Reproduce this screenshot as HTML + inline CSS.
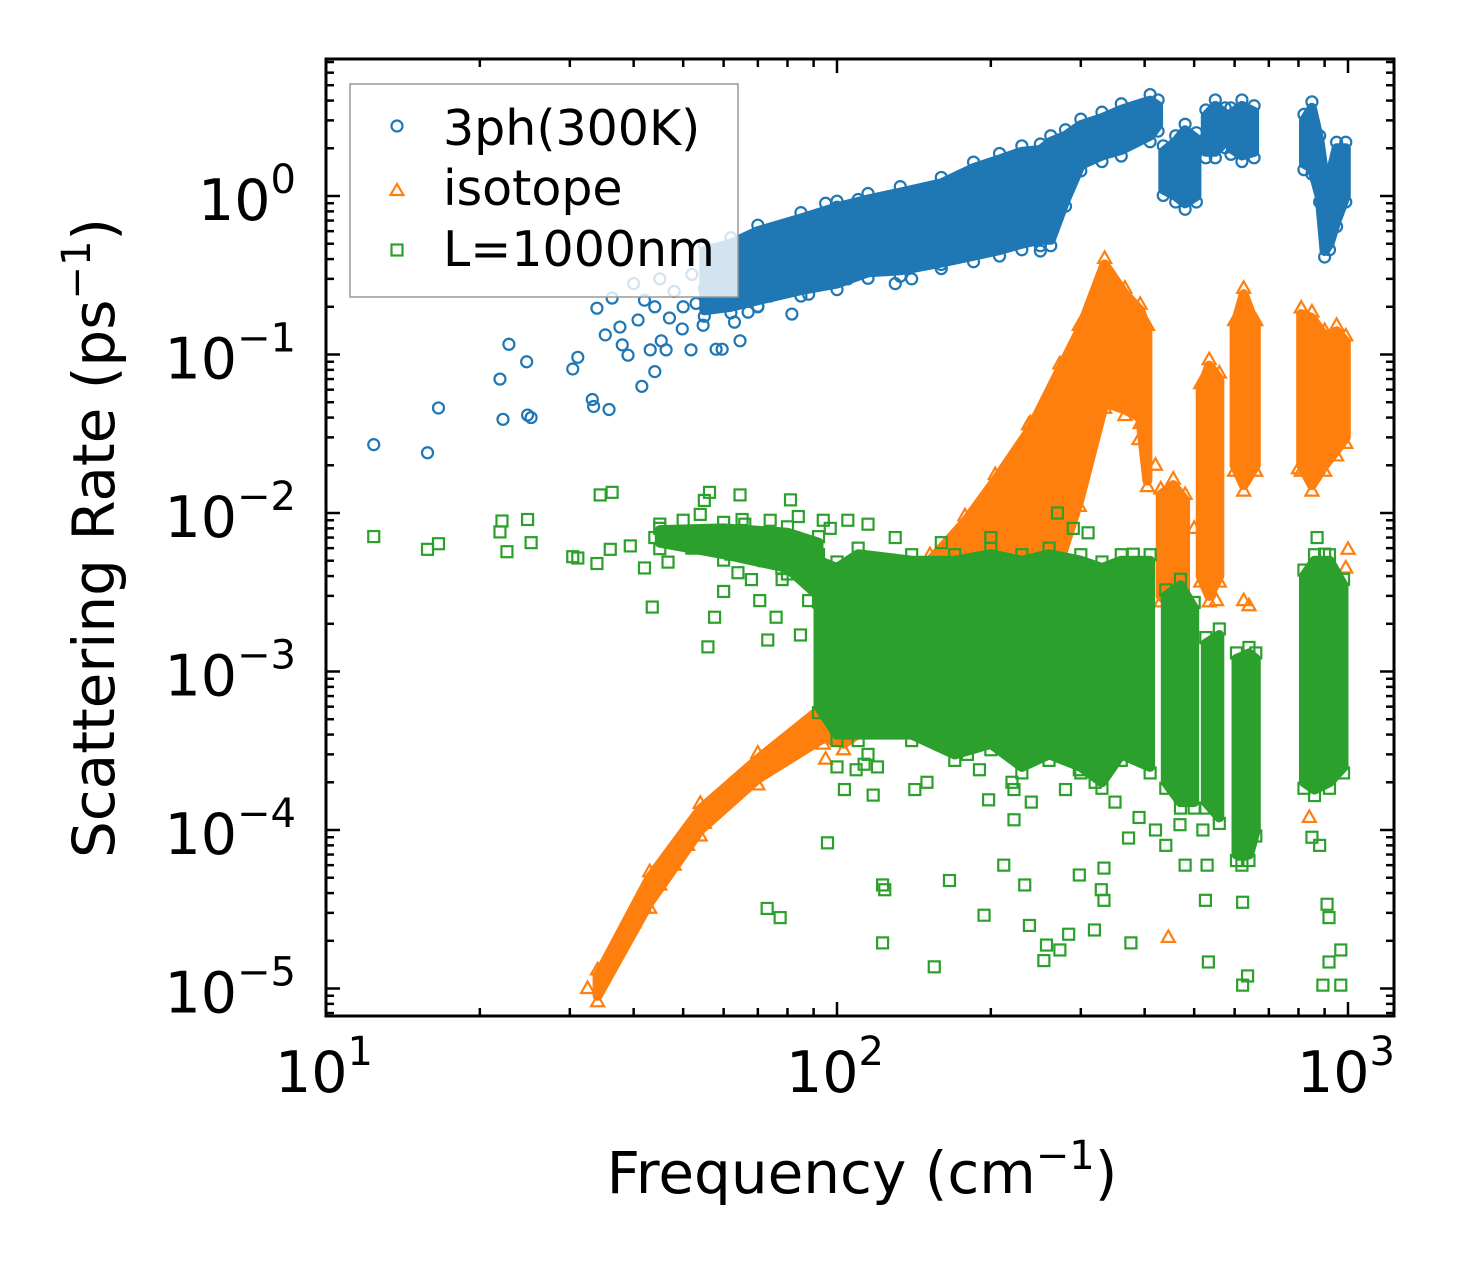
<!DOCTYPE html>
<html><head><meta charset="utf-8"><style>
html,body{margin:0;padding:0;background:#fff;}
svg text{font-family:"DejaVu Sans","Liberation Sans",sans-serif;fill:#000;}
</style></head><body>
<svg id="chart" width="1457" height="1265" viewBox="0 0 1457 1265" xmlns="http://www.w3.org/2000/svg">
<defs><clipPath id="clip"><rect x="326" y="59" width="1068" height="957"/></clipPath></defs>
<rect x="0" y="0" width="1457" height="1265" fill="#fff"/>
<g id="plot" clip-path="url(#clip)"></g>
<g id="axes"></g>
<g id="legend">
<rect x="350" y="84" width="388" height="213" fill="#fff" fill-opacity="0.8" stroke="#999" stroke-width="1.5"/>
<circle cx="397" cy="126" r="5.5" fill="none" stroke="#1f77b4" stroke-width="2.2"/>
<text x="443" y="145" font-size="49">3ph(300K)</text>
<polygon points="397,184 403.5,195 390.5,195" fill="none" stroke="#ff7f0e" stroke-width="2.2"/>
<text x="443" y="205" font-size="49">isotope</text>
<rect x="391.5" y="244.5" width="11" height="11" fill="none" stroke="#2ca02c" stroke-width="2.2"/>
<text x="443" y="266" font-size="49">L=1000nm</text>
</g>
<text x="862" y="1193" font-size="58" text-anchor="middle">Frequency (cm<tspan font-size="40" dy="-24">−1</tspan><tspan dy="24">)</tspan></text>
<text transform="translate(114,538) rotate(-90)" font-size="58" text-anchor="middle">Scattering Rate (ps<tspan font-size="40" dy="-24">−1</tspan><tspan dy="24">)</tspan></text>
</svg>
<script>
// ---- data (frequency cm^-1, rate ps^-1) ----
const xTickExps = [1, 2, 3];
const yTickExps = [0, -1, -2, -3, -4, -5];
// dense bands: [freq, low rate, high rate]
const blueBands = [
 [[55,0.19,0.45],[62,0.2,0.5],[70,0.22,0.6],[85,0.255,0.72],[100,0.28,0.85],[115,0.33,0.95],[133,0.34,1.05],[160,0.38,1.2],[185,0.42,1.5],[208,0.456,1.7],[230,0.5,1.9],[250,0.53,1.95],[262,0.53,2.2],[280,0.94,2.4],[300,1.57,2.8],[330,1.8,3.1],[360,1.95,3.5],[410,2.4,4.0],[425,2.8,3.7]],
 [[435,1.1,1.9],[460,1.0,2.2],[480,0.9,2.6],[505,1.0,2.3]],
 [[527,1.9,3.2],[550,1.9,3.7],[575,2.2,3.3]],
 [[590,2.0,3.3],[620,1.8,3.7],[655,1.9,3.4]],
 [[820,1.6,3.0],[850,1.5,3.6],[880,1.0,2.2],[900,0.45,1.3],[920,0.5,1.3],[950,0.7,2.0],[990,1.0,2.0]]
];
const orangeBands = [
 [[34,0.9e-5,1.2e-5],[43,3.5e-5,5e-5],[54,1.0e-4,1.35e-4],[70,2.1e-4,2.8e-4],[94,3.8e-4,6e-4],[103,3.5e-4,1.6e-3],[121,5e-4,2.5e-3],[152,6e-4,5e-3],[178,1.4e-3,8.8e-3],[204,2.8e-3,0.016],[239,5e-3,0.034],[273,5e-3,0.08],[298,0.012,0.14],[334,0.05,0.37],[366,0.045,0.24],[392,0.04,0.19],[405,0.016,0.14]],
 [[430,3e-3,0.013],[455,2.5e-3,0.015],[480,3e-3,0.012]],
 [[515,4e-3,0.06],[535,3e-3,0.085],[560,4e-3,0.07]],
 [[600,0.02,0.15],[625,0.015,0.24],[660,0.02,0.15]],
 [[810,0.02,0.18],[850,0.015,0.17],[900,0.02,0.13],[950,0.025,0.14],[990,0.03,0.12]]
];
const greenBands = [
 [[45,6.5e-3,7.8e-3],[60,5.5e-3,8e-3],[80,4.5e-3,7.5e-3],[92,3e-3,6.5e-3]],
 [[92,6e-4,5e-3],[100,4e-4,4.5e-3],[110,4e-4,5.5e-3],[140,4e-4,5e-3],[170,3e-4,5e-3],[200,3.5e-4,5.5e-3],[230,2.5e-4,5e-3],[260,3e-4,5.5e-3],[300,2.5e-4,5e-3],[330,2e-4,4.5e-3],[360,3e-4,5e-3],[410,2.5e-4,5e-3]],
 [[440,2e-4,3e-3],[470,1.5e-4,3.5e-3],[500,1.5e-4,2.5e-3]],
 [[527,1.5e-4,1.5e-3],[560,1.2e-4,1.7e-3]],
 [[605,7e-5,1.2e-3],[640,7e-5,1.3e-3],[660,1e-4,1.2e-3]],
 [[820,2e-4,4e-3],[860,1.8e-4,5e-3],[920,2e-4,5e-3],[980,2.5e-4,3.5e-3]]
];
// scattered points: [freq, rate]
const bluePoints = [[12.4,0.027],[15.8,0.024],[16.6,0.046],[21.9,0.070],[22.8,0.116],[22.2,0.039],[24.8,0.0415],[25.2,0.040],[24.7,0.090],[30.4,0.081],[31.1,0.096],[33.2,0.052],[33.4,0.047],[35.8,0.045],[33.9,0.196],[35.2,0.133],[36.3,0.227],[37.6,0.149],[38.0,0.115],[39.0,0.099],[40.8,0.165],[41.5,0.063],[43.1,0.107],[44.0,0.078],[45.3,0.122],[46.3,0.107],[49.8,0.145],[51.8,0.107],[54.7,0.153],[58.0,0.108],[59.6,0.108],[64.6,0.122],[67.0,0.185],[74.0,0.234],[81.6,0.18],
 [40,0.28],[42,0.22],[45,0.3],[48,0.25],[50,0.2],[52,0.32],[55,0.26],[57,0.38],[60,0.3],[62,0.22],[65,0.42],[68,0.35],[72,0.5],[76,0.45],[80,0.55],[85,0.65],[90,0.7],[95,0.9],[100,0.85],[110,0.95],[120,0.6],[140,0.3],[160,0.37],[105,0.3],[130,0.28],[250,0.45],[44,0.2],[47,0.17],[53,0.21],[63,0.16],[70,0.2],[78,0.27],[88,0.24]];
const orangePoints = [[32.5,1e-5],[35,1.3e-5],[36,1.5e-5],[38,2e-5],[40,2.6e-5],[42,3.2e-5],[45,4.5e-5],[48,6e-5],[51,8e-5],[55,1.1e-4],[58,1.35e-4],[62,1.7e-4],[66,2e-4],[72,2.5e-4],[78,3e-4],[85,3.6e-4],[90,4.2e-4],[96,5e-4],[100,7e-4],
 [445,2.1e-5],[95,2.8e-4],[840,1.2e-4],[553,2.8e-3],[625,2.8e-3],[640,2.6e-3],[460,0.014],[1000,5.9e-3],[800,0.019],[390,0.029],[237,0.036],[247,0.029],[420,0.02],[500,0.008],[990,4.5e-3]];
const greenPoints = [[12.4,7.1e-3],[15.8,5.9e-3],[16.6,6.4e-3],[21.9,7.6e-3],[22.1,8.9e-3],[22.6,5.7e-3],[24.8,9.1e-3],[25.2,6.5e-3],[30.4,5.3e-3],[31.1,5.2e-3],[33.9,4.8e-3],[36.0,5.9e-3],[39.4,6.2e-3],[34.4,0.013],[36.3,0.0135],[43.5,2.55e-3],[46.7,4.9e-3],[54.0,9.8e-3],[55.9,1.43e-3],[56.3,0.0135],[57.6,2.2e-3],[64.6,0.013],[65.2,9.1e-3],[70.6,2.8e-3],[73.2,1.58e-3],[78.1,3.8e-3],[81.1,0.0121],[84.8,1.7e-3],[95.8,8.3e-5],[103.4,1.8e-4],[117.7,1.66e-4],[120.0,2.5e-4],[122.8,4.5e-5],[124,4.2e-5],[122.8,1.94e-5],[155,1.37e-5],[142,1.8e-4],[166,4.8e-5],[194,2.9e-5],[198,1.55e-4],[212,6e-5],[222,1.16e-4],[233,4.5e-5],[238,2.5e-5],[254,1.5e-5],[257,1.88e-5],[273,1.75e-5],[284,2.2e-5],[298,5.2e-5],[319,2.34e-5],[329,4.2e-5],[333,5.75e-5],[333,3.6e-5],[376,1.94e-5],[372,8.9e-5],[469,1.08e-4],[526,3.6e-5],[533,1.47e-5],[622,3.5e-5],[622,1.05e-5],[636,1.2e-5],[910,3.4e-5],[918,2.8e-5],[968,1.75e-5],[918,1.47e-5],[893,1.05e-5],[968,1.05e-5],[73,3.2e-5],[77.4,2.8e-5],[109,2.4e-4],[113,2.6e-4],[173,3.2e-4],[190,2.4e-4],[222,1.8e-4],[298,2.4e-4],
 [100,2.5e-4],[115,3e-4],[150,2e-4],[180,3e-4],[220,2e-4],[240,1.5e-4],[280,1.8e-4],[320,2e-4],[350,1.5e-4],[390,1.2e-4],[130,7e-3],[160,6.5e-3],[200,7e-3],[270,1e-2],[290,8e-3],[310,7.5e-3],[380,5.5e-3],[420,1e-4],[440,8e-5],[480,6e-5],[520,1e-4],[530,6e-5],[620,6e-5],[630,9e-5],[850,9e-5],[880,8e-5],[900,5.5e-3],[870,7e-3],
 [45,8e-3],[48,7e-3],[50,9e-3],[52,6e-3],[55,1.2e-2],[58,7.5e-3],[62,5.5e-3],[66,8.5e-3],[70,6.5e-3],[74,9e-3],[78,4.5e-3],[82,7e-3],[86,5e-3],[90,3.5e-3],[94,9e-3],[60,3.2e-3],[68,3.8e-3],[76,2.2e-3],[88,2.8e-3],[42,4.5e-3],[44,7e-3],[64,4.2e-3],[72,5e-3],[84,9.5e-3],[97,8e-3],[105,9e-3],[115,8.5e-3]];

// ---- scales ----
const X0 = 326, X1 = 1394, Y0 = 59, Y1 = 1016;
function xs(f){ return 326 + (Math.log10(f) - 1) * 511; }
function ys(r){ return 196 - Math.log10(r) * 158.5; }
const NS = 'http://www.w3.org/2000/svg';
const plot = document.getElementById('plot');
const axes = document.getElementById('axes');
function mk(tag, parent){ const e = document.createElementNS(NS, tag); parent.appendChild(e); return e; }

function marker(cx, cy, color, shape, name){
  let e;
  if (shape === 'circle'){ e = mk('circle', plot); e.setAttribute('cx', cx); e.setAttribute('cy', cy); e.setAttribute('r', 5.5); }
  else if (shape === 'tri'){ e = mk('polygon', plot); e.setAttribute('points', cx+','+(cy-7)+' '+(cx+6.5)+','+(cy+4.5)+' '+(cx-6.5)+','+(cy+4.5)); }
  else { e = mk('rect', plot); e.setAttribute('x', cx-5.5); e.setAttribute('y', cy-5.5); e.setAttribute('width', 11); e.setAttribute('height', 11); }
  e.setAttribute('fill', 'none');
  e.setAttribute('stroke', color);
  e.setAttribute('stroke-width', '2.2');
  
  
}
function drawBands(bands, color, shape, name){
  bands.forEach(function(b){
    let pts = b.map(function(d){ return xs(d[0]).toFixed(1)+','+ys(d[2]).toFixed(1); });
    pts = pts.concat(b.slice().reverse().map(function(d){ return xs(d[0]).toFixed(1)+','+ys(d[1]).toFixed(1); }));
    const p = mk('polygon', plot);
    p.setAttribute('points', pts.join(' '));
    p.setAttribute('fill', color);
    p.setAttribute('stroke', color);
    p.setAttribute('stroke-width', '10');
    p.setAttribute('stroke-linejoin', 'round');
    
    
    b.forEach(function(d){
      marker(xs(d[0]), ys(d[2]) - 6, color, shape, name + '-edge');
      marker(xs(d[0]), ys(d[1]) + 6, color, shape, name + '-edge');
    });
  });
}
function drawPoints(pts, color, shape, name){
  pts.forEach(function(d){ marker(xs(d[0]), ys(d[1]), color, shape, name); });
}
drawBands(blueBands, '#1f77b4', 'circle', 'band-3ph');
drawPoints(bluePoints, '#1f77b4', 'circle', 'point-3ph');
drawBands(orangeBands, '#ff7f0e', 'tri', 'band-isotope');
drawPoints(orangePoints, '#ff7f0e', 'tri', 'point-isotope');
drawBands(greenBands, '#2ca02c', 'square', 'band-boundary');
drawPoints(greenPoints, '#2ca02c', 'square', 'point-boundary');

// ---- axes frame ----
const frame = mk('rect', axes);
frame.setAttribute('x', X0); frame.setAttribute('y', Y0);
frame.setAttribute('width', X1-X0); frame.setAttribute('height', Y1-Y0);
frame.setAttribute('fill', 'none'); frame.setAttribute('stroke', '#000'); frame.setAttribute('stroke-width', '3');


function tick(x1,y1,x2,y2,name){
  const l = mk('line', axes);
  l.setAttribute('x1',x1); l.setAttribute('y1',y1); l.setAttribute('x2',x2); l.setAttribute('y2',y2);
  l.setAttribute('stroke','#000'); l.setAttribute('stroke-width','2.5');
  
  
}
for (let e = 1; e <= 3; e++){
  for (let m = 1; m <= 9; m++){
    const v = m * Math.pow(10, e);
    const x = xs(v);
    if (x < X0-1 || x > X1+1) continue;
    const len = (m === 1) ? 14 : 8;
    tick(x, Y1, x, Y1-len, 'x-tick');
    tick(x, Y0, x, Y0+len, 'x-tick-top');
  }
}
xTickExps.forEach(function(e){
  const t = mk('text', axes);
  t.setAttribute('x', xs(Math.pow(10,e)) - 2); t.setAttribute('y', 1092);
  t.setAttribute('font-size', '57'); t.setAttribute('text-anchor', 'middle');
  t.innerHTML = '10<tspan font-size="40" dy="-27">' + e + '</tspan>';
  
  
});
for (let e = -6; e <= 0; e++){
  for (let m = 1; m <= 9; m++){
    const v = m * Math.pow(10, e);
    const y = ys(v);
    if (y < Y0-1 || y > Y1+1) continue;
    const len = (m === 1) ? 14 : 8;
    tick(X0, y, X0+len, y, 'y-tick');
    tick(X1, y, X1-len, y, 'y-tick-right');
  }
}
yTickExps.forEach(function(e){
  const t = mk('text', axes);
  t.setAttribute('x', 296); t.setAttribute('y', ys(Math.pow(10,e)) + 24);
  t.setAttribute('font-size', '57'); t.setAttribute('text-anchor', 'end');
  t.innerHTML = '10<tspan font-size="40" dy="-27">' + (e === 0 ? '0' : '−' + (-e)) + '</tspan>';
  
  
});
</script>
</body></html>
